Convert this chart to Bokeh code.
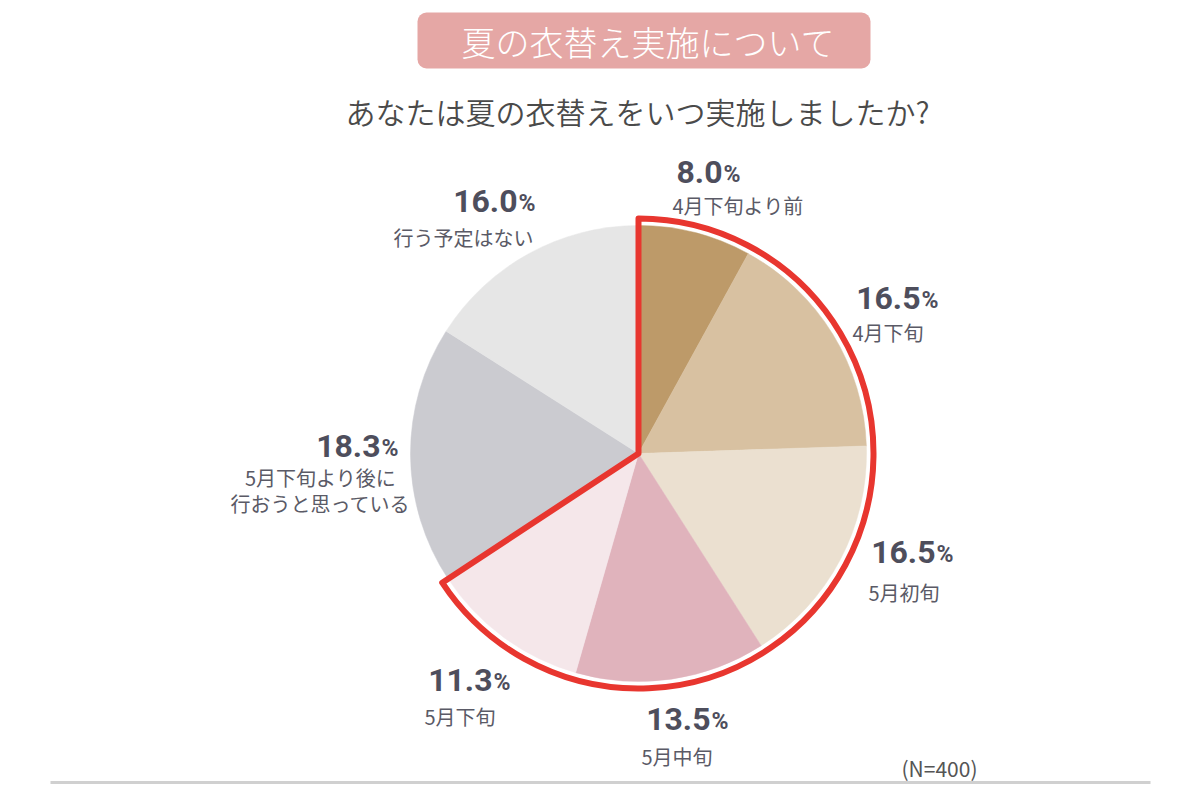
import math
from bokeh.plotting import figure
from bokeh.models import Range1d
from bokeh.core.properties import value
from bokeh.embed import file_html
from bokeh.resources import INLINE

# ---------------- data ----------------
title = "夏の衣替え実施について"
subtitle = "あなたは夏の衣替えをいつ実施しましたか?"
note = "(N=400)"
categories = ["4月下旬より前", "4月下旬", "5月初旬", "5月中旬", "5月下旬",
              "5月下旬より後に\n行おうと思っている", "行う予定はない"]
values = [8.0, 16.5, 16.5, 13.5, 11.3, 18.3, 16.0]
colors = ["#BD9A69", "#D8C1A1", "#EBE0D0", "#E0B3BC", "#F5E7EA", "#CBCBD0", "#E6E6E6"]
highlighted = [True, True, True, True, True, False, False]

# ---------------- layout (screen pixels) ----------------
W, H = 1184, 784
CX, CY, R = 638, 453, 228
R_OUT = 235
# percent label: x where "%" starts, centre y ; sub label: x, y, align
pct_pos = [(722, 171), (920, 297), (935, 551), (710, 718), (492, 679), (380, 445), (517, 200)]
sub_pos = [(672, 205, "left"), (852, 332, "left"), (868, 592, "left"), (641, 756, "left"),
           (424, 716, "left"), (320, 477, "center"), (393, 237, "left")]

def Y(sy):
    return 800 - sy

JP = value("Noto Sans CJK JP")
JP_LIGHT = value("'Noto Sans CJK JP Light', 'Noto Sans CJK JP'")
JP_DEMI = value("'Noto Sans CJK JP DemiLight', 'Noto Sans CJK JP'")
NUM = value("Roboto")

p = figure(width=W, height=H, output_backend="svg", toolbar_location=None,
           x_range=Range1d(0, W), y_range=Range1d(800 - H, 800),
           min_border=0)
p.axis.visible = False
p.grid.visible = False
p.outline_line_color = None
p.background_fill_color = "white"
p.border_fill_color = "white"

# title box
p.quad(left=[417], right=[870], top=[Y(12)], bottom=[Y(68)],
       fill_color="#E5A7A5", line_color=None, border_radius=9)
p.text(x=[648], y=[Y(41)], text=[title], text_font=JP_LIGHT, text_font_size="34px",
       text_color="white", text_align="center", text_baseline="middle")
p.text(x=[637], y=[Y(110)], text=[subtitle], text_font=JP_DEMI, text_font_size="30px",
       text_color="#4A4A4A", text_align="center", text_baseline="middle")

# pie
total = sum(values)
starts, ends = [], []
cum = 0.0
for v in values:
    starts.append(math.pi / 2 - 2 * math.pi * cum / total)
    cum += v
    ends.append(math.pi / 2 - 2 * math.pi * cum / total)
p.wedge(x=[CX] * len(values), y=[Y(CY)] * len(values), radius=R,
        start_angle=starts, end_angle=ends, direction="clock",
        fill_color=colors, line_color=colors, line_width=0.5)

# red outline around highlighted slices
hi_sum = sum(v for v, h in zip(values, highlighted) if h)
p.wedge(x=[CX], y=[Y(CY)], radius=R_OUT, start_angle=math.pi / 2,
        end_angle=math.pi / 2 - 2 * math.pi * hi_sum / total, direction="clock",
        fill_color=None, line_color="#E8362F", line_width=6, line_join="round")

# labels
for v, cat, (px, py), (sx, sy, al) in zip(values, categories, pct_pos, sub_pos):
    p.text(x=[px], y=[Y(py)], text=[f"{v:.1f}"], text_font=NUM, text_font_size="32px",
           text_font_style="bold", text_color="#4E4E5C", text_align="right",
           text_baseline="middle")
    p.text(x=[px + 1], y=[Y(py + 3)], text=["%"], text_font=NUM, text_font_size="23px",
           text_font_style="bold", text_color="#4E4E5C", text_align="left",
           text_baseline="middle")
    for i, line in enumerate(cat.split("\n")):
        p.text(x=[sx], y=[Y(sy + i * 26)], text=[line], text_font=JP,
               text_font_size="20px", text_color="#5A5A66", text_align=al,
               text_baseline="middle")

p.text(x=[977], y=[Y(767)], text=[note], text_font=JP, text_font_size="21px",
       text_color="#555555", text_align="right", text_baseline="middle")

# bottom rule
p.line(x=[50, 1150], y=[Y(782), Y(782)], line_color="#D0D0D0", line_width=3)

open("out.html", "w").write(file_html(p, INLINE))
